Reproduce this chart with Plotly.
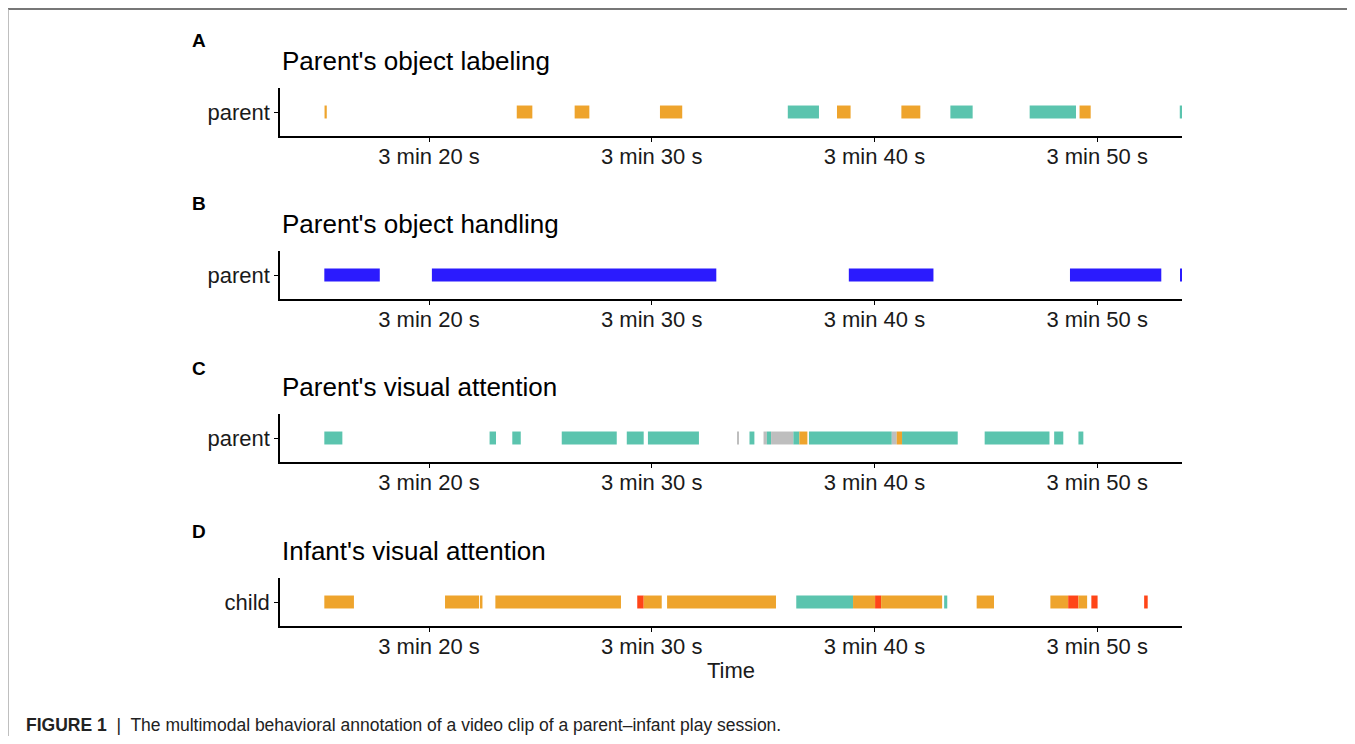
import plotly.graph_objects as go

# ---- data (seconds) ----
COLORS = {"orange": "#EEA42D", "teal": "#5BC4AE", "blue": "#2B1BFE",
          "red": "#FF4518", "gray": "#BEBEBE"}

a_start = [195.31, 203.94, 206.54, 210.37, 216.11, 218.32, 221.21, 223.41, 226.97, 229.21, 233.71]
a_end   = [195.41, 204.64, 207.20, 211.37, 217.51, 218.93, 222.06, 224.41, 229.05, 229.71, 233.90]
a_code  = ["orange", "orange", "orange", "orange", "teal", "orange", "orange", "teal", "teal", "orange", "teal"]

b_start = [195.30, 200.13, 218.85, 228.78, 233.72]
b_end   = [197.79, 212.90, 222.65, 232.88, 233.90]
b_code  = ["blue"] * 5

c_start = [195.30, 202.72, 203.74, 205.96, 208.88, 209.83, 213.84, 214.39, 215.02, 215.17,
           215.36, 216.36, 216.63, 217.06, 220.78, 221.00, 221.24, 224.95, 228.07, 229.16]
c_end   = [196.11, 203.01, 204.12, 208.43, 209.64, 212.12, 213.90, 214.61, 215.17, 215.36,
           216.36, 216.63, 216.99, 220.78, 221.00, 221.24, 223.74, 227.86, 228.48, 229.38]
c_code  = ["teal", "teal", "teal", "teal", "teal", "teal", "gray", "teal", "gray", "teal",
           "gray", "teal", "orange", "teal", "gray", "orange", "teal", "teal", "teal", "teal"]

d_start = [195.30, 200.72, 202.33, 202.98, 209.35, 209.64, 210.69, 216.49, 219.04, 220.03,
           220.30, 223.13, 224.59, 227.90, 228.70, 229.16, 229.74, 232.11]
d_end   = [196.63, 202.25, 202.40, 208.62, 209.64, 210.45, 215.58, 219.04, 220.03, 220.30,
           223.04, 223.27, 225.37, 228.70, 229.16, 229.55, 230.02, 232.27]
d_code  = ["orange", "orange", "orange", "orange", "red", "orange", "orange", "teal", "orange", "red",
           "orange", "teal", "orange", "orange", "red", "orange", "red", "red"]

panels = [
    ("A", "Parent's object labeling", "parent", a_start, a_end, a_code),
    ("B", "Parent's object handling", "parent", b_start, b_end, b_code),
    ("C", "Parent's visual attention", "parent", c_start, c_end, c_code),
    ("D", "Infant's visual attention", "child", d_start, d_end, d_code),
]

tick_vals = [200, 210, 220, 230]
tick_text = ["3 min 20 s", "3 min 30 s", "3 min 40 s", "3 min 50 s"]
x_range = [193.31, 233.81]

OFF = 8  # page body margin
W, H = 1339, 728
FONT = "Liberation Sans, Arial, Helvetica, sans-serif"

def py(px):
    return 1 - (px - OFF) / H

def pxx(px):
    return (px - OFF) / W

# panel pixel geometry (screen px): (top, bottom)
geom = [(88, 136), (251, 299), (414, 462), (578, 626)]
title_y = [61, 224, 387, 551]
letter_y = [41, 204, 368, 531]

fig = go.Figure()
layout = dict(width=W, height=H, margin=dict(l=0, r=0, t=0, b=0),
              plot_bgcolor="white", paper_bgcolor="white", showlegend=False,
              barmode="overlay", font=dict(family=FONT, color="#1a1a1a"))
annotations = []
for i, (letter, title, ylab, st, en, cd) in enumerate(panels):
    n = i + 1
    xa = "x" if n == 1 else f"x{n}"
    ya = "y" if n == 1 else f"y{n}"
    for s, e, c in zip(st, en, cd):
        fig.add_trace(go.Bar(orientation="h", y=[ylab], x=[e - s], base=[s],
                             width=0.27, marker=dict(color=COLORS[c], line=dict(width=0)),
                             xaxis=xa, yaxis=ya, hoverinfo="skip"))
    top, bot = geom[i]
    layout["xaxis" if n == 1 else f"xaxis{n}"] = dict(
        domain=[pxx(280), pxx(1182)], range=x_range, anchor=ya,
        showline=True, linecolor="black", linewidth=1.5, showgrid=False, zeroline=False,
        ticks="outside", ticklen=4, tickwidth=1.2, tickcolor="black", ticklabelstandoff=-4,
        tickvals=tick_vals, ticktext=tick_text, tickfont=dict(size=22, family=FONT, color="#1a1a1a"),
        title=dict(text="Time" if n == 4 else "", font=dict(size=22, family=FONT), standoff=4))
    layout["yaxis" if n == 1 else f"yaxis{n}"] = dict(
        domain=[py(bot), py(top)], range=[-0.5, 0.5], anchor=xa, type="category",
        showline=True, linecolor="black", linewidth=1.5, showgrid=False, zeroline=False,
        ticks="outside", ticklen=4, tickwidth=1.2, tickcolor="black",
        tickfont=dict(size=22, family=FONT, color="#1a1a1a"), fixedrange=True)
    annotations.append(dict(x=pxx(280), y=py(title_y[i]), xref="paper", yref="paper",
                            xanchor="left", yanchor="middle", showarrow=False,
                            text=title, font=dict(size=26, family=FONT, color="black")))
    annotations.append(dict(x=pxx(190), y=py(letter_y[i]), xref="paper", yref="paper",
                            xanchor="left", yanchor="middle", showarrow=False,
                            text=f"<b>{letter}</b>", font=dict(size=19, family=FONT, color="black")))

annotations.append(dict(x=pxx(24), y=py(725), xref="paper", yref="paper",
                        xanchor="left", yanchor="middle", showarrow=False,
                        text="<b>FIGURE 1</b>  |  The multimodal behavioral annotation of a video clip of a parent\u2013infant play session.",
                        font=dict(size=17.5, family=FONT, color="#222")))
layout["annotations"] = annotations
layout["shapes"] = [
    dict(type="line", xref="paper", yref="paper", x0=0, x1=1, y0=py(9), y1=py(9),
         line=dict(color="#777777", width=2)),
    dict(type="line", xref="paper", yref="paper", x0=0, x1=0, y0=0, y1=py(9),
         line=dict(color="#aaaaaa", width=1.5)),
]
fig.update_layout(**layout)
fig.write_html("out.html")
